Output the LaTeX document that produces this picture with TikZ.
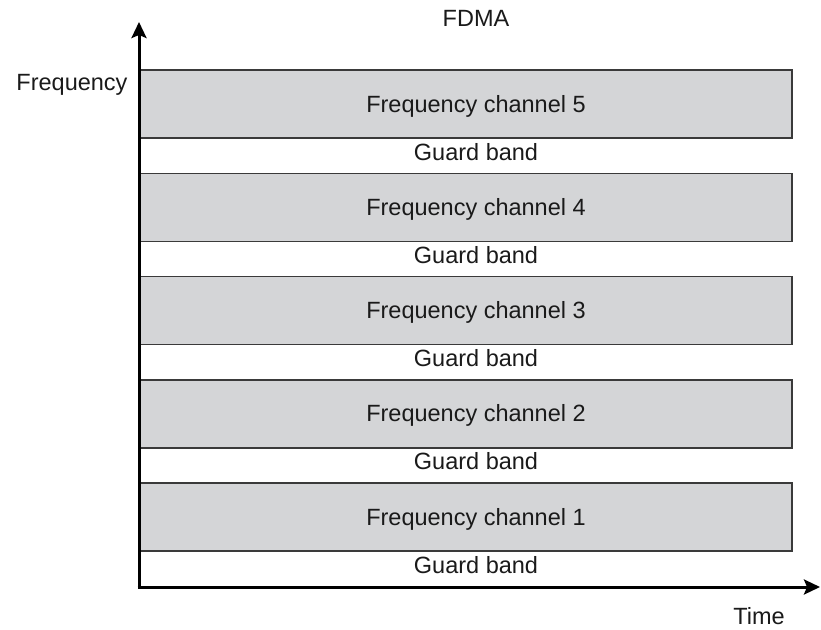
\documentclass[tikz,border=0pt]{standalone}
\usepackage{fontspec}
\setmainfont{Liberation Sans}
\usetikzlibrary{arrows.meta}
\definecolor{chanfill}{HTML}{D4D5D7}
\definecolor{chanline}{HTML}{3A3A3A}
\definecolor{labeltext}{HTML}{1A1A1A}
\tikzset{
  chanbox/.style={draw=chanline, line width=1.6pt, fill=chanfill, inner sep=0pt},
  lbl/.style={text=labeltext, font=\fontsize{23.5}{28}\selectfont, inner sep=0pt, anchor=base},
  axisline/.style={line width=3pt, black, -{Stealth[length=16pt, width=15pt, inset=3pt]}}
}
\begin{document}
\begin{tikzpicture}[x=1pt, y=-1pt]
  \useasboundingbox (0,0) rectangle (821,629);

  % frequency channels, top (5) to bottom (1)
  \foreach \k/\n in {5/0, 4/1, 3/2, 2/3, 1/4} {
    \pgfmathsetmacro{\ytop}{70+103.3*\n}
    \draw[chanbox] (139,\ytop) rectangle (792,\ytop+68);
    \node[lbl] (ch\k) at (476,\ytop+42) {Frequency channel \k};
    \node[lbl] (gb\k) at (476,\ytop+90) {Guard band};
  }

  % axes
  \coordinate (o) at (139,587);
  \coordinate (ytip) at (139,22);
  \coordinate (xtip) at (820,587);
  \draw[axisline] (o) -- (ytip);
  \draw[axisline] ([xshift=-1.5pt]o) -- (xtip);

  % titles and axis labels
  \node[lbl] (title) at (476,27) {FDMA};
  \node[lbl] (flabel) at (72,90) {Frequency};
  \node[lbl] (tlabel) at (759,624) {Time};
\end{tikzpicture}
\end{document}
